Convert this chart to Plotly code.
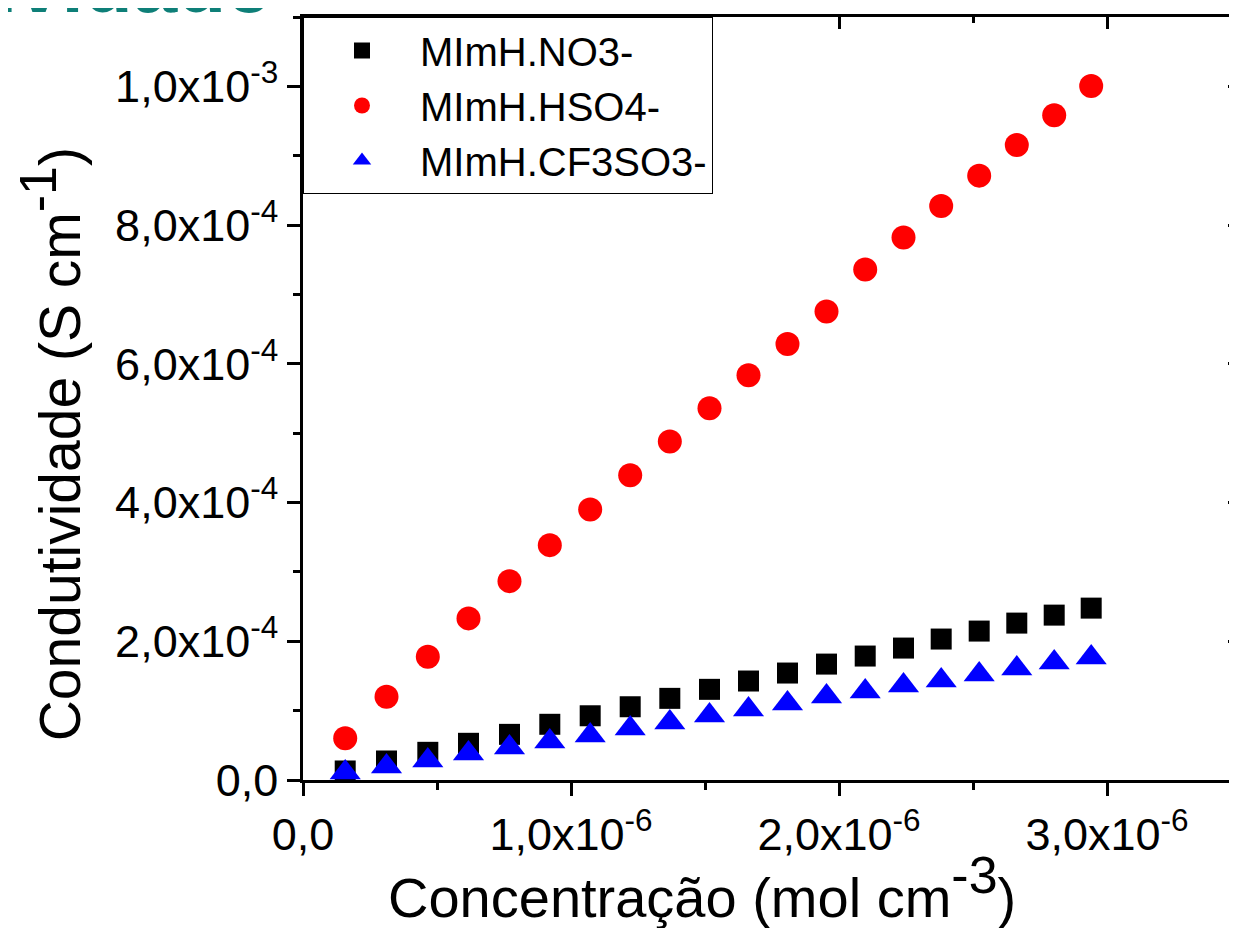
import plotly.graph_objects as go

# ---- data ----
conc = [0.1575e-6, 0.3116e-6, 0.4657e-6, 0.6175e-6, 0.7705e-6, 0.9209e-6, 1.0716e-6,
        1.2209e-6, 1.3687e-6, 1.5168e-6, 1.6623e-6, 1.8078e-6, 1.9534e-6, 2.0978e-6,
        2.2407e-6, 2.3813e-6, 2.5231e-6, 2.6634e-6, 2.8030e-6, 2.9410e-6]

cond_no3 = [1.30e-5, 2.74e-5, 3.99e-5, 5.29e-5, 6.58e-5, 8.03e-5, 9.26e-5, 1.056e-4,
            1.177e-4, 1.307e-4, 1.427e-4, 1.542e-4, 1.671e-4, 1.787e-4, 1.902e-4,
            2.032e-4, 2.147e-4, 2.262e-4, 2.377e-4, 2.478e-4]

cond_hso4 = [6.01e-5, 1.200e-4, 1.777e-4, 2.330e-4, 2.867e-4, 3.386e-4, 3.900e-4,
             4.395e-4, 4.880e-4, 5.360e-4, 5.836e-4, 6.287e-4, 6.754e-4, 7.359e-4,
             7.820e-4, 8.275e-4, 8.713e-4, 9.154e-4, 9.582e-4, 1.0004e-3]

cond_cf3so3 = [1.08e-5, 1.95e-5, 2.81e-5, 3.82e-5, 4.68e-5, 5.55e-5, 6.41e-5, 7.42e-5,
               8.29e-5, 9.29e-5, 1.016e-4, 1.102e-4, 1.203e-4, 1.275e-4, 1.362e-4,
               1.434e-4, 1.520e-4, 1.607e-4, 1.693e-4, 1.765e-4]

series_names = ["MImH.NO3-", "MImH.HSO4-", "MImH.CF3SO3-"]

x_tick_vals = [0, 1e-6, 2e-6, 3e-6]
x_tick_text = ["0,0", "1,0x10<sup>-6</sup>", "2,0x10<sup>-6</sup>", "3,0x10<sup>-6</sup>"]
y_tick_vals = [0, 2e-4, 4e-4, 6e-4, 8e-4, 1e-3]
y_tick_text = ["0,0", "2,0x10<sup>-4</sup>", "4,0x10<sup>-4</sup>", "6,0x10<sup>-4</sup>",
               "8,0x10<sup>-4</sup>", "1,0x10<sup>-3</sup>"]

x_title = "Concentração (mol cm<sup><span style='font-size:52px'>-3</span></sup>)"
y_title = "Condutividade (S cm<sup><span style='font-size:52px'>-1</span></sup>)"
page_title = "<b>Condutividade</b>"

FONT = "Liberation Sans, Arial, sans-serif"
X_RANGE = [0, 3.5e-6]
Y_RANGE = [0, 1.1e-3]

fig = go.Figure()
fig.add_trace(go.Scatter(x=conc, y=cond_no3, mode="markers", name=series_names[0],
                         marker=dict(symbol="square", size=21, color="black")))
fig.add_trace(go.Scatter(x=conc, y=cond_hso4, mode="markers", name=series_names[1],
                         marker=dict(symbol="circle", size=24, color="#ff0000")))
fig.add_trace(go.Scatter(x=conc, y=cond_cf3so3, mode="markers", name=series_names[2],
                         marker=dict(symbol="triangle-up", size=27, color="#0000ff")))
# invisible trace to carry the mirrored (top / right) axes
fig.add_trace(go.Scatter(x=conc, y=cond_no3, mode="markers", xaxis="x2", yaxis="y2",
                         marker=dict(opacity=0), showlegend=False, hoverinfo="skip"))

LW = 2.5
fig.update_layout(
    width=1237, height=928,
    margin=dict(l=295, r=4, t=9, b=156, pad=0),
    paper_bgcolor="white", plot_bgcolor="white",
    font=dict(family=FONT, color="black"),
    showlegend=True,
    legend=dict(x=0, y=1, xanchor="left", yanchor="top",
                bgcolor="white", bordercolor="black", borderwidth=1,
                font=dict(family=FONT, size=40, color="black"),
                indentation=0, itemwidth=106, tracegroupgap=0),
    xaxis=dict(range=X_RANGE, tickvals=x_tick_vals, ticktext=x_tick_text,
               showgrid=False, zeroline=False, showline=True, linecolor="black",
               linewidth=LW, ticks="outside", ticklen=13, tickwidth=LW, tickcolor="black",
               tickfont=dict(family=FONT, size=45), ticklabelstandoff=0,
               minor=dict(ticks="outside", ticklen=7, tickwidth=LW, tickcolor="black",
                          dtick=0.5e-6, tick0=0, showgrid=False)),
    yaxis=dict(range=Y_RANGE, tickvals=y_tick_vals, ticktext=y_tick_text,
               showgrid=False, zeroline=False, showline=True, linecolor="black",
               linewidth=LW, ticks="outside", ticklen=13, tickwidth=LW, tickcolor="black",
               tickfont=dict(family=FONT, size=45), ticklabelstandoff=0,
               minor=dict(ticks="outside", ticklen=7, tickwidth=LW, tickcolor="black",
                          dtick=1e-4, tick0=0, showgrid=False)),
    xaxis2=dict(range=X_RANGE, overlaying="x", side="top", anchor="y",
                tickvals=x_tick_vals, showticklabels=False,
                showgrid=False, zeroline=False, showline=True, linecolor="black",
                linewidth=LW, ticks="inside", ticklen=12, tickwidth=LW, tickcolor="black",
                minor=dict(ticks="inside", ticklen=6, tickwidth=LW, tickcolor="black",
                           dtick=0.5e-6, tick0=0, showgrid=False)),
    yaxis2=dict(range=Y_RANGE, overlaying="y", side="right", anchor="x",
                tickvals=y_tick_vals, showticklabels=False,
                showgrid=False, zeroline=False, showline=True, linecolor="black",
                linewidth=LW,
                ticks="inside", ticklen=13, tickwidth=LW, tickcolor="black",
                minor=dict(ticks="inside", ticklen=7, tickwidth=LW, tickcolor="black",
                           dtick=1e-4, tick0=0, showgrid=False)),
    annotations=[
        dict(text=x_title, xref="paper", yref="paper", x=0.4254, y=-0.141,
             xanchor="center", yanchor="middle", showarrow=False,
             font=dict(family=FONT, size=56, color="black")),
        dict(text=y_title, xref="paper", yref="paper", x=-0.2697, y=0.44,
             xanchor="center", yanchor="middle", textangle=-90, showarrow=False,
             font=dict(family=FONT, size=57, color="black")),
        dict(text=page_title, xref="paper", yref="paper", x=-0.032, y=0.9815,
             xanchor="right", yanchor="bottom", showarrow=False,
             font=dict(family=FONT, size=80, color="#0e7f78")),
    ],
)

fig.write_html("out.html")
